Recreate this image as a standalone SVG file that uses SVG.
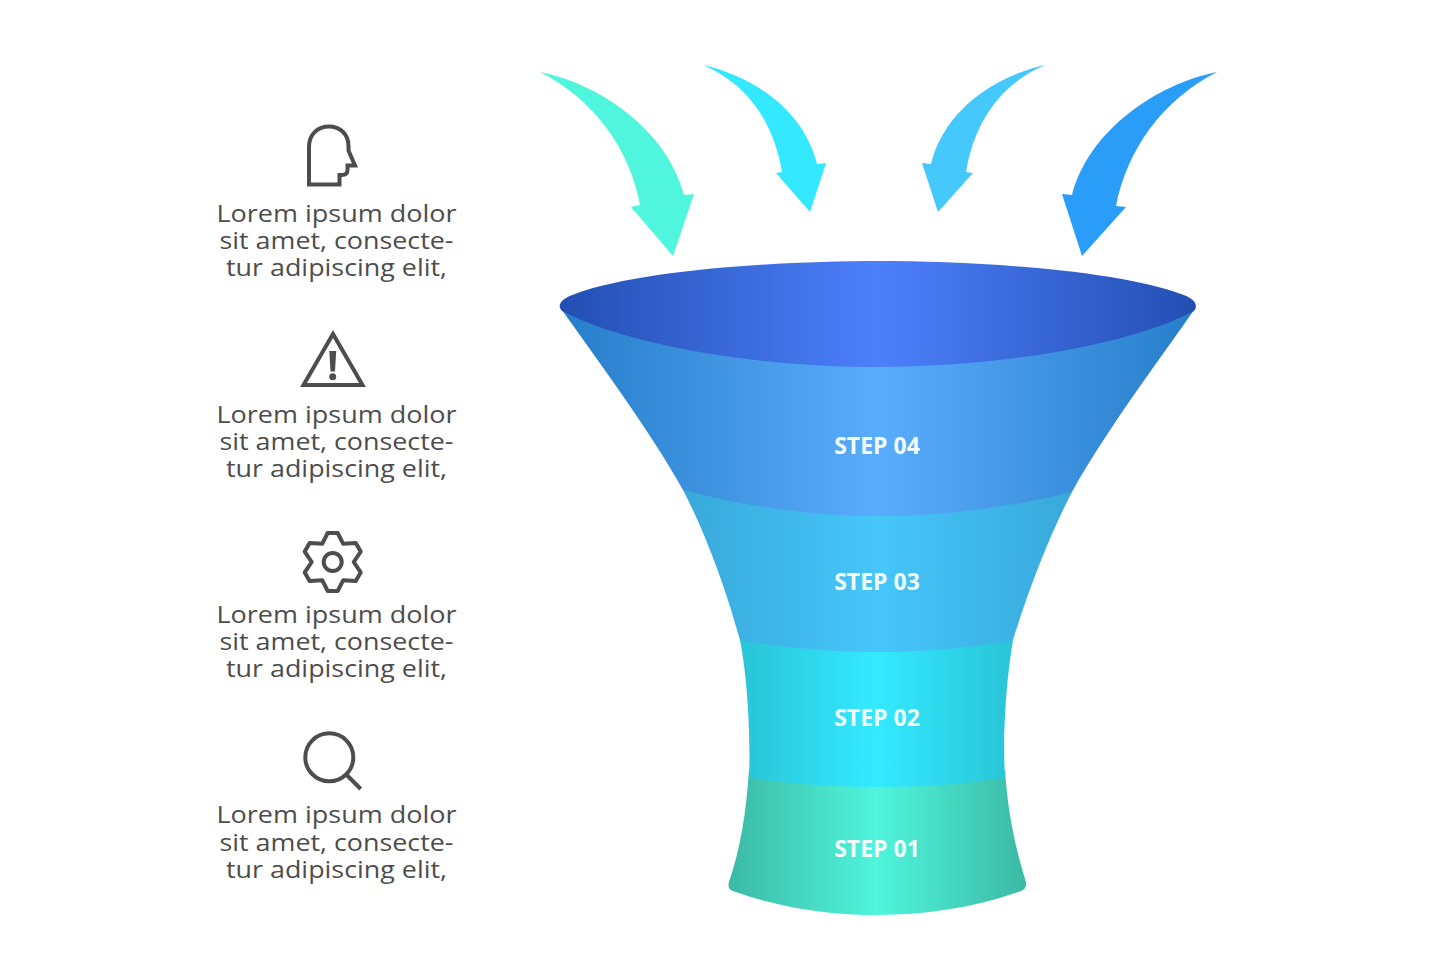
<svg xmlns="http://www.w3.org/2000/svg" width="1435" height="980" viewBox="0 0 1435 980">
<style>
.body{font-family:"Open Sans","DejaVu Sans",sans-serif;font-size:23.5px;fill:#4d4d4d;text-anchor:middle}
.step{font-family:"Open Sans","DejaVu Sans",sans-serif;font-size:23px;font-weight:700;fill:#f4fffd;text-anchor:middle}
.ico{fill:none;stroke:#4d4d4d;stroke-width:4}
</style>
<defs>
<linearGradient id="g0" gradientUnits="userSpaceOnUse" x1="560" y1="0" x2="1196" y2="0"><stop offset="0" stop-color="#234fb3"/><stop offset=".5" stop-color="#4c80fb"/><stop offset="1" stop-color="#234fb3"/></linearGradient>
<linearGradient id="g4" gradientUnits="userSpaceOnUse" x1="562" y1="0" x2="1194" y2="0"><stop offset="0" stop-color="#267ec9"/><stop offset=".5" stop-color="#5aacfc"/><stop offset="1" stop-color="#267ec9"/></linearGradient>
<linearGradient id="g3" gradientUnits="userSpaceOnUse" x1="686" y1="0" x2="1070" y2="0"><stop offset="0" stop-color="#38a9da"/><stop offset=".5" stop-color="#46c6fb"/><stop offset="1" stop-color="#38a9da"/></linearGradient>
<linearGradient id="g2" gradientUnits="userSpaceOnUse" x1="738" y1="0" x2="1015" y2="0"><stop offset="0" stop-color="#29c3d6"/><stop offset=".5" stop-color="#33eaff"/><stop offset="1" stop-color="#29c3d6"/></linearGradient>
<linearGradient id="g1" gradientUnits="userSpaceOnUse" x1="728" y1="0" x2="1026" y2="0"><stop offset="0" stop-color="#3cb9a5"/><stop offset=".5" stop-color="#4ff5dc"/><stop offset="1" stop-color="#3cb9a5"/></linearGradient>
</defs>
<rect width="1435" height="980" fill="#fff"/>
<g id="connectors">
<path fill="#4ff5dc" d="M540 72C600 84 667 130 684 195L694 194L673 256L631 207L640 205C630 150 595 100 540 72Z"/>
<path fill="#33e8ff" d="M703 65C760 78 805 115 817 164L826 163L810 212L776 173L782 172C774 125 750 85 703 65Z"/>
<path fill="#45c8fb" d="M1045 65C988 78 943 115 931 164L922 163L938 212L973 173L966 172C974 125 998 85 1045 65Z"/>
<path fill="#2a9df9" d="M1217 72C1157 84 1089 130 1072 195L1062 194L1082 256L1126 207L1116 206C1127 150 1162 100 1217 72Z"/>
</g>
<g id="step-01">
<path fill="url(#g1)" d="M749 770C746 815 740 850 729 882Q727 889 733 891C780 908 830 915 877 915C924 915 974 908 1021 891Q1027 889 1026 882C1016 850 1008 815 1005 770Z"/>
<text class="step" x="877" y="857">STEP 01</text>
</g>
<g id="step-02">
<path fill="url(#g2)" d="M740 640C746 670 751 725 749 778Q810 787 878 787Q946 787 1005 778C1002 725 1008 670 1013 640Z"/>
<text class="step" x="877" y="726">STEP 02</text>
</g>
<g id="step-03">
<path fill="url(#g3)" d="M683 490C703 528 725 585 740 640Q805 652 878 652Q950 652 1013 640C1030 585 1052 530 1072 492Z"/>
<text class="step" x="877" y="590">STEP 03</text>
</g>
<g id="step-04">
<path fill="url(#g4)" d="M562 310C590 350 650 430 683 490Q780 516 878 516Q976 516 1072 492C1105 432 1165 352 1194 310Z"/>
<text class="step" x="877" y="454">STEP 04</text>
</g>
<g id="funnel-mouth">
<path fill="url(#g0)" d="M562 311C556 305 562 298 575 294C640 270 780 261 878 261C976 261 1116 270 1181 294C1194 298 1199 305 1194 311C1130 345 1000 367 878 367C756 367 626 345 562 311Z"/>
</g>
<g id="item-head">
<path class="ico" d="M309 184.500V147C309 134 318 126.500 329 126.500C340 126.500 348.500 134 348.500 146V150.500L355 165.500H347.500V170Q347.500 175 342 175H339.500V184.500Z"/>
<text class="body" x="336.500" y="222" textLength="240" lengthAdjust="spacingAndGlyphs">Lorem ipsum dolor</text>
<text class="body" x="336.500" y="249" textLength="234" lengthAdjust="spacingAndGlyphs">sit amet, consecte-</text>
<text class="body" x="336.500" y="276" textLength="221" lengthAdjust="spacingAndGlyphs">tur adipiscing elit,</text>
</g>
<g id="item-warning">
<path class="ico" d="M333 334L303.500 385H362.500Z"/>
<path fill="#4d4d4d" d="M329.300 351H336.200L335 371.500H330.500Z"/>
<circle cx="332.700" cy="376.700" r="3.500" fill="#4d4d4d"/>
<text class="body" x="336.500" y="423" textLength="240" lengthAdjust="spacingAndGlyphs">Lorem ipsum dolor</text>
<text class="body" x="336.500" y="450" textLength="234" lengthAdjust="spacingAndGlyphs">sit amet, consecte-</text>
<text class="body" x="336.500" y="477" textLength="221" lengthAdjust="spacingAndGlyphs">tur adipiscing elit,</text>
</g>
<g id="item-gear">
<g transform="translate(332.700 562)">
<path class="ico" stroke-linejoin="round" d="M-5-29L5-29L10.500-18.200L23.050-19.080L28-10.420L21 0L28 10.420L23.050 19.080L10.500 18.200L5 29L-5 29L-10.500 18.200L-23.050 19.080L-28 10.420L-21 0L-28-10.420L-23.050-19.080L-10.500-18.200Z"/>
<circle class="ico" r="9"/>
</g>
<text class="body" x="336.500" y="623" textLength="240" lengthAdjust="spacingAndGlyphs">Lorem ipsum dolor</text>
<text class="body" x="336.500" y="650" textLength="234" lengthAdjust="spacingAndGlyphs">sit amet, consecte-</text>
<text class="body" x="336.500" y="677" textLength="221" lengthAdjust="spacingAndGlyphs">tur adipiscing elit,</text>
</g>
<g id="item-search">
<circle class="ico" cx="329.300" cy="757.300" r="24"/>
<path class="ico" d="M346.700 775L360.700 789"/>
<text class="body" x="336.500" y="823" textLength="240" lengthAdjust="spacingAndGlyphs">Lorem ipsum dolor</text>
<text class="body" x="336.500" y="851" textLength="234" lengthAdjust="spacingAndGlyphs">sit amet, consecte-</text>
<text class="body" x="336.500" y="878" textLength="221" lengthAdjust="spacingAndGlyphs">tur adipiscing elit,</text>
</g>
</svg>
